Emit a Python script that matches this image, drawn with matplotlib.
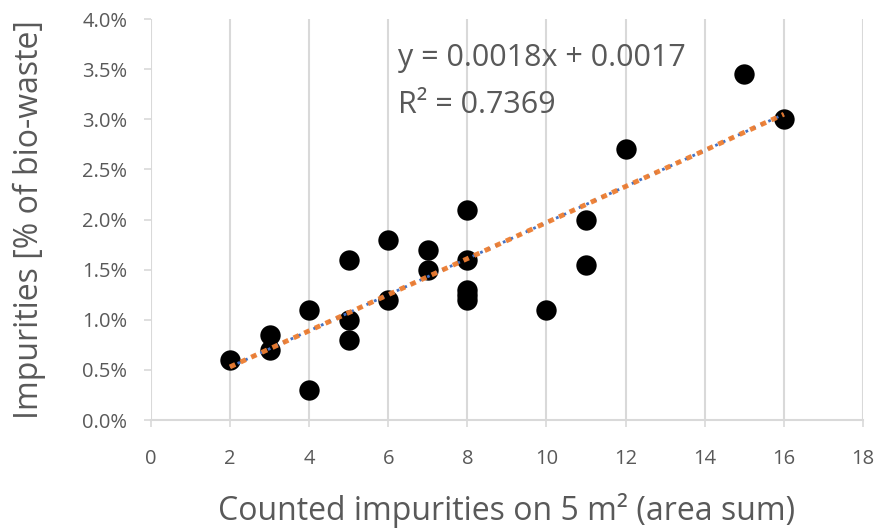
import matplotlib
matplotlib.use("Agg")
import matplotlib.pyplot as plt
from matplotlib.ticker import FuncFormatter, MultipleLocator
import numpy as np

plt.rcParams['font.family'] = ['Open Sans', 'DejaVu Sans']

counted = [2, 3, 3, 4, 4, 5, 5, 5, 6, 6, 7, 7, 8, 8, 8, 8, 8, 10, 11, 11, 12, 15, 16]
impurities_pct = [0.6, 0.85, 0.7, 1.1, 0.3, 1.6, 1.0, 0.8, 1.8, 1.2, 1.7, 1.5,
                  2.1, 1.6, 1.3, 1.25, 1.2, 1.1, 2.0, 1.55, 2.7, 3.45, 3.0]
slope = 0.0018
intercept = 0.0017
eq_text = "y = 0.0018x + 0.0017"
r2_text = "R² = 0.7369"
x_label = "Counted impurities on 5 m² (area sum)"
y_label = "Impurities [% of bio-waste]"

gray = "#595959"
fig = plt.figure(figsize=(8.77, 5.29), dpi=100)
ax = fig.add_axes([0.172, 0.206, 0.812, 0.758])

x = np.array(counted, dtype=float)
y = np.array(impurities_pct) / 100.0
ax.scatter(x, y, s=215, color="black", zorder=3, linewidths=0)

xl = np.array([min(counted), max(counted)], dtype=float)
yl = slope * xl + intercept
ax.plot(xl, yl, color="#4472C4", linestyle=(0, (1, 2)), linewidth=2.0, zorder=4)
ax.plot(xl, yl, color="#ED7D31", linestyle=(0, (1.2, 1.2)), linewidth=3.5, zorder=4,
        dash_capstyle='butt', alpha=0.95)

ax.set_xlim(0, 18)
ax.set_ylim(0, 0.04)
ax.xaxis.set_major_locator(MultipleLocator(2))
ax.yaxis.set_major_locator(MultipleLocator(0.005))
ax.yaxis.set_major_formatter(FuncFormatter(lambda v, p: f"{v*100:.1f}%"))

ax.grid(axis='x', color="#d9d9d9", linewidth=1.5, zorder=0)
ax.set_axisbelow(True)
for s in ['top', 'right', 'left']:
    ax.spines[s].set_visible(False)
ax.spines['bottom'].set_color("#d9d9d9")
ax.spines['bottom'].set_linewidth(1.5)
ax.tick_params(axis='both', colors="#d9d9d9", labelcolor=gray, labelsize=14.5, length=5, width=1.2)
ax.tick_params(axis='x', pad=16)
ax.tick_params(axis='y', pad=12)

ax.set_xlabel(x_label, fontsize=23, color=gray, labelpad=17)
ax.set_ylabel(y_label, fontsize=23, color=gray, labelpad=26)

ax.text(0.347, 0.902, eq_text, transform=ax.transAxes, fontsize=22, color=gray, va='center', ha='left')
ax.text(0.347, 0.785, r2_text, transform=ax.transAxes, fontsize=22, color=gray, va='center', ha='left')

fig.savefig("out.png", dpi=100)
